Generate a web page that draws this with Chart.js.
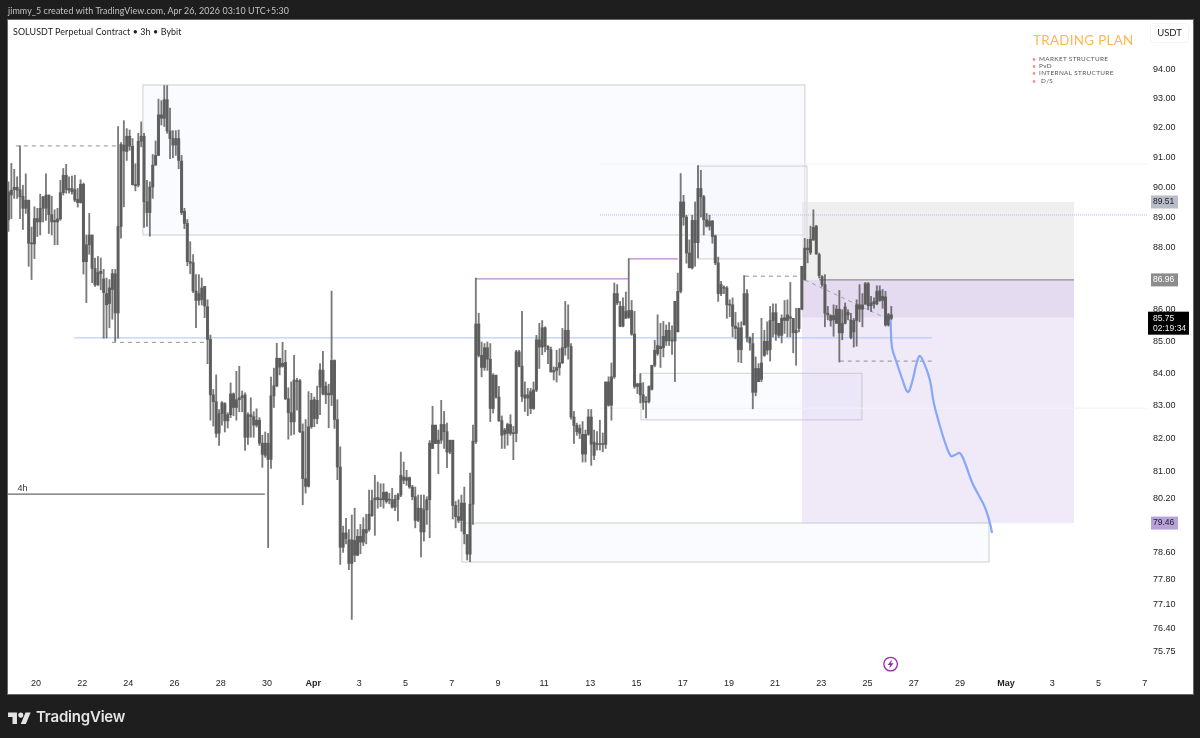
<!DOCTYPE html>
<html>
<head>
<meta charset="utf-8">
<title>SOLUSDT 3h</title>
<script src="https://cdn.jsdelivr.net/npm/chart.js@4"></script>
<style>
html, body { margin: 0; padding: 0; width: 1200px; height: 738px; overflow: hidden; background: #1e1e1e; }
#panel { position: absolute; left: 7px; top: 19px; width: 1185px; height: 674px; background: #fff; border: 1px solid #666; }
#statsChart { position: absolute; left: 0; top: 0; }
.txt { position: absolute; white-space: nowrap; font-family: "Lato", "Noto Sans", sans-serif; }
#credit { left: 8px; top: 5px; font-size: 8.9px; color: #c4c4c4; letter-spacing: .1px; }
#symbol { left: 13px; top: 26px; font-size: 8.9px; color: #222; letter-spacing: .1px; }
#plan { left: 1033px; top: 32px; font-size: 13.4px; color: #ffb74d; letter-spacing: .3px; }
.plan-row { left: 1039px; font-size: 6.4px; color: #555; letter-spacing: .35px; line-height: 8px; }
.plan-dot { left: 1032px; font-size: 7px; color: #f88; line-height: 8px; }
#usdt { left: 1150px; top: 23px; width: 37px; height: 18px; border: 1px solid #f4f4f4; border-radius: 4px; text-align: center; font-size: 9.5px; line-height: 18px; color: #222; }
#brand { left: 36px; top: 707px; font-family: "Inter", sans-serif; font-size: 15px; font-weight: 600; color: #e4e4e4; letter-spacing: -.2px; }
#logo { position: absolute; left: 8px; top: 710px; width: 23px; height: 14px; fill: #e4e4e4; }
</style>
</head>
<body>
<div id="panel"></div>
<canvas id="statsChart" width="1200" height="738"></canvas>
<div class="txt" id="credit">jimmy_5 created with TradingView.com, Apr 26, 2026 03:10 UTC+5:30</div>
<div class="txt" id="symbol">SOLUSDT Perpetual Contract • 3h • Bybit</div>
<div class="txt" id="plan">TRADING PLAN</div>
<div class="txt plan-dot" style="top:55px">•</div><div class="txt plan-row" style="top:55px">MARKET STRUCTURE</div>
<div class="txt plan-dot" style="top:62px">•</div><div class="txt plan-row" style="top:62px">PvD</div>
<div class="txt plan-dot" style="top:69px">•</div><div class="txt plan-row" style="top:69px">INTERNAL STRUCTURE</div>
<div class="txt plan-dot" style="top:77px">•</div><div class="txt plan-row" style="top:77px;left:1041px">D/S</div>
<div class="txt" id="usdt">USDT</div>
<svg id="logo" viewBox="0 0 36 22"><path d="M14 22H7V11H0V4h14v18zM28 22h-8l7.5-18h8L28 22z"/><circle cx="20" cy="8" r="4"/></svg>
<div class="txt" id="brand">TradingView</div>

<script>
// 3h candles (first bar is about Mar 18)
var candleHigh = [
90.18,90.8,90.6,90.35,91.39,90.07,90.45,89.57,88.68,89.35,89.3,89.77,89.7,90.45,89.74,89.7,89.25,89.3,90.23,90.63,
90.77,90.35,90.37,90.4,89.96,90.25,90.14,88.42,89.13,88.42,87.67,87.72,87.67,87.3,87.02,86.97,87.3,87.3,92.05,91.5,
92.25,91.98,91.93,91.64,90.79,91.82,92.21,91.82,90.23,90.18,91.1,91.56,92.99,92.94,93.46,93.46,92.68,91.91,91.91,91.93,
91.07,89.3,88.93,88.2,87.78,87.13,87.13,87.02,86.75,86.32,85.2,83.5,83.95,82.88,83.12,83.09,82.78,83.7,83.39,84.06,
84.22,83.45,83.39,82.78,83.24,82.81,82.9,82.63,82.09,82.19,82.15,83.88,84.16,84.94,84.47,84.97,84.72,83.55,83.73,84.56,
83.84,83.81,82.44,82.57,83.43,83.38,83.26,83.6,84.3,84.69,83.73,83.66,86.6,84.42,83.18,81.74,79.37,79.6,79.27,79.7,
79.9,79.27,79.42,79.62,79.72,80.44,80.44,80.88,80.68,80.63,80.63,80.39,80.34,80.49,80.29,80.34,81.58,81.28,81.03,80.83,
80.58,80.53,80.29,80.29,80.29,80.24,81.93,82.98,82.4,82.25,83.16,82.82,82.46,81.94,81.94,80.1,80.15,80.29,80.53,79.12,
80.95,82.4,
87.02,85.89,84.98,84.93,84.98,84.93,83.99,83.94,83.59,82.68,82.3,82.46,82.72,82.36,84.72,84.72,85.95,83.73,83.53,83.53,
83.73,85.19,85.57,85.66,85.46,84.87,84.82,84.2,84.72,84.77,85.41,86.27,86.16,84.93,82.82,82.46,82.41,82.51,82.25,82.88,
82.88,82.25,82.2,82.55,82.16,83.73,83.89,84.32,86.86,86.81,86.27,86.38,86.57,87.64,86.3,85.95,83.69,83.99,83.71,83.28,
83.61,84.25,85.03,85.84,85.57,85.63,85.52,85.6,85.49,
86.27,87.18,90.46,89.73,89.07,88.26,89.07,89.51,90.73,90.57,89.73,89.13,89.07,88.9,88.42,87.7,86.91,86.77,86.75,86.32,
86.38,85.92,85.59,85.62,87.1,86.65,85.14,85.25,84.51,84.3,85.73,85.35,85.62,86.11,86.19,86.19,85.57,85.84,86.3,86.32,
86.88,85.73,86.05,86.05,87.4,88.31,88.28,88.71,89.25,88.74,87.83,87.1,87.13,86.11,85.84,86.16,86.14,86.62,86.0,86.22,
86.0,85.89,85.73,86.32,86.81,86.52,86.88,86.88,86.43,86.38,86.77,86.77,86.65,86.59,85.89,86.11
];
var bodyTop = [
89.85,89.9,90.0,90.0,89.92,89.7,89.57,89.57,88.15,88.96,88.96,89.3,89.68,89.74,89.74,89.09,88.9,88.95,89.82,90.4,
90.4,89.96,89.96,89.92,89.6,90.1,90.1,88.1,88.42,88.42,87.33,87.2,87.24,86.99,86.52,86.7,87.16,87.16,88.7,91.44,
91.42,91.72,91.72,91.38,90.09,91.55,91.72,91.72,89.52,90.01,90.74,91.07,92.45,92.45,92.97,92.97,91.9,91.64,91.64,91.64,
90.88,89.2,88.8,87.55,87.52,86.6,86.52,86.7,86.75,86.1,85.06,83.33,83.12,82.75,83.09,83.06,82.72,83.36,83.36,83.18,
83.24,83.3,83.33,82.72,82.72,82.66,82.55,82.55,81.85,81.85,81.85,83.3,83.61,84.47,84.47,84.31,84.34,83.21,82.78,83.79,
83.77,83.77,82.2,80.78,82.35,83.16,83.18,83.16,84.1,84.1,83.6,83.38,84.4,84.4,82.57,81.13,79.17,79.17,78.97,78.97,
78.95,79.07,79.07,79.27,79.27,79.72,80.13,80.2,80.22,80.16,80.37,80.37,80.15,80.15,80.16,80.29,80.88,80.83,80.81,80.81,
80.53,80.24,79.9,79.9,79.85,80.15,81.85,82.4,82.4,81.94,82.42,82.42,82.2,81.94,81.94,79.98,79.65,80.05,80.05,79.12,
80.02,81.91,
85.55,85.55,84.56,84.8,84.8,84.44,83.94,83.94,83.26,82.54,82.25,82.42,82.42,82.15,84.67,84.67,84.22,83.33,83.33,83.43,
83.48,85.05,85.05,85.43,85.43,84.84,84.74,84.09,84.18,84.33,84.8,85.35,85.35,84.84,82.65,82.39,82.3,82.12,82.12,82.65,
82.65,81.88,81.84,81.82,81.82,83.73,83.73,83.89,86.52,86.52,86.11,86.11,85.95,85.98,85.98,85.23,83.67,83.69,83.33,83.13,
83.59,84.25,84.72,84.87,84.84,85.16,85.35,85.35,85.03,
86.27,86.59,89.51,89.51,89.01,87.83,88.9,88.9,89.96,89.96,89.68,88.92,88.88,88.88,88.39,87.51,86.81,86.7,86.7,86.16,
86.16,85.48,85.43,85.43,86.52,86.52,85.11,84.93,84.15,84.15,84.32,85.0,85.0,85.66,85.91,85.91,85.57,85.73,85.75,85.84,
85.78,85.73,85.35,86.05,87.4,87.99,87.99,88.28,88.67,88.71,87.78,87.07,86.81,85.89,85.82,85.82,86.02,86.02,85.57,86.09,
85.92,85.68,85.66,86.16,86.16,86.16,86.84,86.84,86.22,86.27,86.59,86.61,86.43,86.41,85.84,85.84
];
var bodyBottom = [
88.92,89.74,89.92,89.9,89.68,89.3,89.3,88.15,88.13,88.13,88.85,88.85,89.3,89.3,89.09,88.85,88.85,88.85,88.95,89.82,
89.92,89.9,89.85,89.57,89.49,89.49,87.55,87.55,88.1,87.33,86.8,86.8,87.16,86.55,86.16,86.2,86.65,85.9,85.9,88.7,
91.22,91.2,91.38,90.09,90.05,90.07,91.55,89.52,89.16,89.16,90.01,90.74,91.07,92.33,92.33,91.9,91.64,91.42,91.42,90.9,
89.16,88.8,87.55,87.5,86.6,86.3,86.3,86.33,86.12,85.06,83.33,83.12,82.15,82.15,82.75,82.53,82.53,82.72,82.94,82.94,
83.18,83.24,82.03,82.03,82.66,82.4,82.4,81.85,81.51,81.48,81.36,81.36,83.3,83.61,84.19,84.22,83.21,82.78,82.5,82.5,
83.74,82.2,80.78,80.55,80.55,82.35,82.6,82.6,83.57,83.36,83.33,83.33,83.33,82.57,81.13,78.75,78.75,79.0,78.28,78.28,
78.52,78.52,78.9,78.9,79.17,79.27,79.68,80.15,80.15,80.15,80.15,80.1,80.14,79.93,79.93,80.16,80.29,80.73,80.73,80.53,
80.24,79.54,79.54,79.2,79.2,79.85,80.15,81.69,81.84,81.84,81.94,82.2,81.58,81.58,79.98,79.65,79.54,79.54,79.14,78.55,
78.55,80.02,
81.89,84.56,84.18,84.18,84.44,82.91,82.91,83.26,82.54,82.09,82.12,82.15,82.15,82.14,82.15,84.22,83.28,83.23,83.23,82.91,
82.91,83.48,84.82,84.82,84.84,84.74,84.04,84.04,84.09,84.18,84.33,84.8,84.84,82.65,82.39,82.2,82.15,81.52,81.52,82.12,
81.82,81.48,81.81,81.81,81.81,81.81,83.01,83.01,83.89,86.22,85.48,85.48,85.73,85.76,85.23,83.59,83.59,83.33,83.1,83.1,
83.13,83.5,84.25,84.61,84.77,84.8,85.01,85.03,85.01,
85.01,85.3,86.59,89.01,87.83,87.35,87.35,88.17,88.17,89.68,88.92,88.71,88.71,88.37,87.51,86.52,86.52,86.69,86.16,86.15,
85.48,85.41,84.74,84.74,85.52,85.11,84.95,83.41,83.41,83.74,83.81,84.56,84.72,84.74,85.66,85.23,85.19,85.19,85.66,85.66,
85.73,85.27,85.27,85.41,86.02,86.97,87.94,87.85,88.26,87.81,87.1,86.81,85.89,85.84,85.66,85.68,85.57,85.27,85.27,85.57,
85.84,85.12,85.3,85.66,86.02,86.02,86.19,86.13,86.13,86.19,86.19,86.3,86.3,85.52,85.52,85.73
];
var candleLow = [
88.54,88.96,89.63,89.63,88.96,88.6,89.13,87.4,86.97,87.65,88.37,88.42,88.85,88.9,88.47,88.42,88.1,88.1,88.9,89.74,
89.8,89.8,89.77,89.52,89.34,89.47,87.15,86.23,87.79,86.87,86.75,86.78,86.64,85.1,85.11,85.43,85.7,85.0,85.1,88.32,
89.35,90.9,91.24,90.07,89.88,90.01,91.36,88.67,88.7,88.38,89.63,90.74,91.07,92.1,92.05,91.82,90.96,90.99,91.07,90.62,
89.09,88.63,87.42,87.16,86.55,85.43,86.15,86.15,85.75,84.3,82.55,82.37,82.03,81.78,82.4,82.19,82.31,82.63,82.69,82.55,
82.81,82.81,81.63,81.81,82.03,82.03,82.34,81.78,81.12,81.42,78.74,81.09,82.94,83.58,83.95,84.19,83.18,81.97,82.09,82.12,
82.86,82.17,80.0,80.35,80.53,82.3,82.35,82.44,82.72,83.33,83.06,82.32,83.0,82.3,80.75,78.25,78.6,78.85,78.1,76.67,
78.33,78.5,78.56,78.8,78.85,79.22,79.66,79.1,79.9,79.95,79.9,80.05,80.03,79.9,79.83,79.52,80.24,80.63,80.58,80.49,
80.15,79.32,79.5,78.47,78.93,79.42,79.03,81.69,81.84,80.93,81.84,81.69,81.11,81.53,79.58,79.32,79.47,79.22,78.85,78.38,
78.33,79.42,
81.84,84.51,83.89,84.09,84.09,82.51,82.77,83.23,82.51,81.69,81.69,81.79,82.09,81.35,81.89,84.2,83.13,82.82,82.69,82.75,
82.88,83.43,84.15,84.58,84.67,84.3,84.04,83.79,83.73,83.94,84.3,84.56,84.44,82.58,81.84,82.09,81.99,81.28,81.28,82.09,
81.18,81.35,81.64,81.64,81.59,81.69,82.98,82.55,83.84,86.16,85.46,85.46,85.73,85.73,85.19,83.53,83.37,83.08,82.88,82.62,
83.08,83.48,84.2,84.56,84.18,84.51,84.87,84.87,84.59,
83.74,85.3,86.54,88.74,87.5,87.35,87.31,87.4,87.67,89.01,88.42,88.68,88.58,88.15,87.45,86.27,86.45,86.52,85.73,85.78,
85.14,85.08,84.35,84.33,85.52,84.98,84.72,82.9,83.3,83.74,83.74,84.53,84.59,84.38,85.14,85.03,85.12,84.95,85.25,85.14,
85.14,84.64,84.25,85.3,86.0,86.95,87.51,87.78,88.24,87.78,87.02,86.75,85.46,85.68,85.48,85.16,85.57,84.35,85.05,85.55,
85.68,85.08,84.82,84.85,85.62,85.46,86.16,86.0,85.95,86.05,86.16,86.27,86.05,85.48,85.48,85.68
];

// projected path, drawn by hand on the original [day, price]
var pathDays = [37.0,37.06,37.27,37.49,37.74,37.92,38.14,38.27,38.48,38.7,38.87,39.09,39.35,39.61,39.78,40.0,40.22,40.52,40.74,41.08,41.3,41.39];
var pathPrices = [85.67,84.82,84.32,83.85,83.42,83.7,84.35,84.54,84.26,83.79,83.08,82.49,81.88,81.46,81.49,81.55,81.25,80.68,80.38,79.93,79.46,79.17];

var priceTicks = [94,93,92,91,90,89,88,86,85,84,83,82,81,80.2,78.6,77.8,77.1,76.4,75.75];
var dayTicks = [0,2,4,6,8,10,12,14,16,18,20,22,24,26,28,30,32,34,36,38,40,42,44,46,48];
var dayLabels = ['20','22','24','26','28','30','Apr','3','5','7','9','11','13','15','17','19','21','23','25','27','29','May','3','5','7'];

// drawings on the chart, [day from, day to, price]
var dashedLevels = [[-0.87,3.55,91.39],[3.29,7.45,84.97],[30.69,33.2,87.08],[34.8,38.79,84.38]];
var magentaLevels = [[19.05,25.63,86.99],[25.63,27.79,87.64]];
var blueLevels = [[1.65,38.79,85.11]];
var darkLevels = [[-1.21,9.91,80.32]];
var zoneEdge = [[33.9,44.94,86.96]];
var faintLevels = [[24.42,48.1,90.78],[24.42,48.1,82.92]];
var dottedLevels = [[24.42,48.1,89.08]];

// boxes [day from, day to, price top, price bottom]
var outlineBoxes = [[4.63,33.29,93.48,88.42],[28.66,33.38,90.71,87.64],[26.19,35.76,84,82.56],[18.44,41.26,79.46,78.32]];
var greyZone = [33.16,44.94,89.51,86.96];
var purpleZone = [33.16,44.94,86.96,85.75];
var paleZone = [33.16,44.94,85.75,79.46];

var firstBarDay = -1.19;
function barDay(i) { return firstBarDay + i * 0.1249; }

function levelSet(levels, color, width, dash) {
    return levels.map(function (l) {
        return { type: 'line', data: [{x: l[0], y: l[2]}, {x: l[1], y: l[2]}], borderColor: color, borderWidth: width, borderDash: dash || [], pointRadius: 0, order: 4 };
    });
}

var zonesAndTags = {
    id: 'zonesAndTags',
    beforeDatasetsDraw: function (chart) {
        var c = chart.ctx, xs = chart.scales.x, ys = chart.scales.y;
        function box(b, fill, stroke) {
            var x0 = xs.getPixelForValue(b[0]), x1 = xs.getPixelForValue(b[1]);
            var y0 = ys.getPixelForValue(b[2]), y1 = ys.getPixelForValue(b[3]);
            c.fillStyle = fill;
            c.fillRect(x0, y0, x1 - x0, y1 - y0);
            if (stroke) { c.strokeStyle = stroke; c.lineWidth = 1; c.strokeRect(x0, y0, x1 - x0, y1 - y0); }
        }
        c.save();
        outlineBoxes.forEach(function (b) { box(b, 'rgba(240,243,252,0.35)', '#cfcfcf'); });
        box(greyZone, 'rgba(225,225,228,0.55)');
        box(purpleZone, 'rgba(190,165,220,0.4)');
        box(paleZone, 'rgba(190,165,225,0.24)');
        c.restore();
    },
    afterDraw: function (chart) {
        var c = chart.ctx, ys = chart.scales.y, xs = chart.scales.x;
        function tag(p, bg, fg) {
            var y = ys.getPixelForValue(p);
            c.fillStyle = bg;
            c.fillRect(1151, y - 6.5, 27, 13);
            c.fillStyle = fg;
            c.fillText(p.toFixed(2), 1153, y);
        }
        c.save();
        c.font = '8.5px "Liberation Sans"';
        c.textBaseline = 'middle';
        c.textAlign = 'left';
        tag(89.51, '#b9bdc9', '#222');
        tag(86.96, '#8c8c8c', '#fff');
        tag(79.46, '#b7a2dc', '#222');
        // countdown on the last price
        var ly = ys.getPixelForValue(85.75);
        c.fillStyle = '#000';
        c.fillRect(1148, ly - 6, 41, 23);
        c.fillStyle = '#eee';
        c.fillText('85.75', 1153, ly + 0.5);
        c.fillText('02:19:34', 1153, ly + 11);
        // lightning mark on the time axis
        var mx = xs.getPixelForValue(37.0), my = ys.getPixelForValue(75.41);
        c.strokeStyle = '#9c27b0';
        c.lineWidth = 1.3;
        c.beginPath(); c.arc(mx, my, 6.8, 0, Math.PI * 2); c.stroke();
        c.fillStyle = '#9c27b0';
        c.beginPath();
        c.moveTo(mx + 1.5, my - 4.5); c.lineTo(mx - 3, my + 0.8); c.lineTo(mx - 0.4, my + 0.8);
        c.lineTo(mx - 1.5, my + 4.5); c.lineTo(mx + 3, my - 0.8); c.lineTo(mx + 0.4, my - 0.8);
        c.closePath(); c.fill();
        // label of the 4h level
        c.fillStyle = '#333';
        c.font = '9px "Liberation Sans"';
        c.fillText('4h', xs.getPixelForValue(-0.8), ys.getPixelForValue(80.32) - 6);
        c.restore();
    }
};

var datasets = [
    { type: 'line', data: pathDays.map(function (d, i) { return {x: d, y: pathPrices[i]}; }), borderColor: '#86a8f7', borderWidth: 2.2, pointRadius: 0, tension: 0.4, order: 0 },
    { data: bodyTop.map(function (t, i) { return {x: barDay(i), y: [bodyBottom[i], t]}; }), backgroundColor: 'rgba(90,90,90,0.92)', barThickness: 2.4, minBarLength: 1, grouped: false, order: 1 },
    { data: candleHigh.map(function (h, i) { return {x: barDay(i), y: [candleLow[i], h]}; }), backgroundColor: 'rgba(70,70,70,0.72)', barThickness: 1.2, grouped: false, order: 2 }
].concat(
    levelSet(dashedLevels, '#8f8f8f', 1, [4, 4]),
    levelSet(magentaLevels, '#c47fd0', 1.2),
    levelSet(blueLevels, '#a9c4fb', 1),
    levelSet(darkLevels, '#666', 1.2),
    levelSet(zoneEdge, '#8f8f8f', 1.3),
    levelSet(faintLevels, '#f2f2f8', 1),
    levelSet(dottedLevels, '#a9bdf0', 1, [1, 1]),
    [{ type: 'line', data: [{x: 33.29, y: 86.96}, {x: 36.75, y: 85.75}], borderColor: '#a0a0a0', borderWidth: 1, borderDash: [4, 4], pointRadius: 0, order: 4 }]
);

var ctx = document.getElementById('statsChart').getContext('2d');
var statsChart = new Chart(ctx, {
    type: 'bar',
    data: { datasets: datasets },
    plugins: [zonesAndTags],
    options: {
        responsive: false,
        animation: false,
        events: [],
        devicePixelRatio: 1,
        layout: { padding: { left: 8, top: 20, right: 7, bottom: 44 } },
        plugins: { legend: { display: false }, tooltip: { enabled: false } },
        scales: {
            x: {
                type: 'linear', min: -1.21, max: 48.1, offset: false,
                grid: { display: false, drawTicks: false }, border: { display: false },
                afterBuildTicks: function (s) { s.ticks = dayTicks.map(function (d) { return {value: d}; }); },
                afterFit: function (s) { s.height = 22; },
                ticks: {
                    autoSkip: false, maxRotation: 0, padding: 6, color: '#222',
                    font: function (c) {
                        var lab = c.tick && c.tick.label;
                        return { family: '"Liberation Sans"', size: 9, weight: (lab === 'Apr' || lab === 'May') ? 'bold' : 'normal' };
                    },
                    callback: function (v) { return dayLabels[dayTicks.indexOf(v)]; }
                }
            },
            y: {
                type: 'logarithmic', position: 'right', min: 75.19, max: 95.76, bounds: 'data',
                grid: { display: false, drawTicks: false }, border: { display: false },
                afterBuildTicks: function (s) { s.ticks = priceTicks.map(function (p) { return {value: p}; }); },
                afterFit: function (s) { s.width = 46; },
                ticks: {
                    autoSkip: false, padding: 6, color: '#222', major: { enabled: false },
                    font: { family: '"Liberation Sans"', size: 9 },
                    callback: function (v) { return Number(v).toFixed(2); }
                }
            }
        }
    }
});
</script>
</body>
</html>
